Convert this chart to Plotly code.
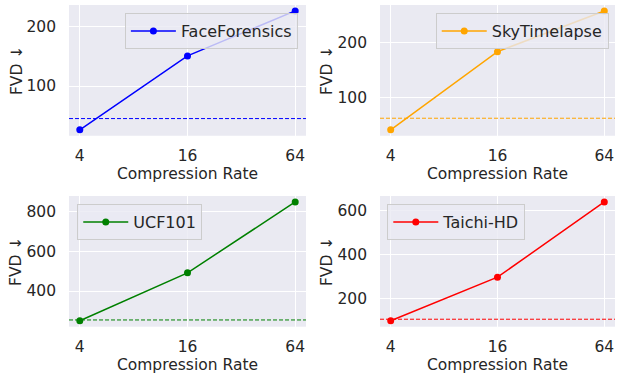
import math
import plotly.graph_objects as go

rates = [4, 16, 64]
rate_labels = ["4", "16", "64"]
datasets = ["FaceForensics", "SkyTimelapse", "UCF101", "Taichi-HD"]
colors = ["blue", "orange", "green", "red"]
face_fvd = [26, 151, 227]
sky_fvd = [41, 183, 257]
ucf_fvd = [251, 491, 846]
taichi_fvd = [98, 296, 638]
baseline_fvd = [45, 62, 255, 105]
ytick_sets = [[100, 200], [100, 200], [400, 600, 800], [200, 400, 600]]
series = [face_fvd, sky_fvd, ucf_fvd, taichi_fvd]

FONT = "DejaVu Sans"
TXT = "#262626"
BG = "#EAEAF2"

xdoms = [[0.1117, 0.4951], [0.6149, 0.9951], [0.1117, 0.4951], [0.6149, 0.9951]]
ydoms = [[0.638, 0.9867], [0.638, 0.9867], [0.1288, 0.4773], [0.1288, 0.4773]]
legpos = [
    dict(x=0.482, xanchor="right", y=0.9653, yanchor="top"),
    dict(x=0.985, xanchor="right", y=0.9653, yanchor="top"),
    dict(x=0.125, xanchor="left", y=0.456, yanchor="top"),
    dict(x=0.6267, xanchor="left", y=0.456, yanchor="top"),
]

fig = go.Figure()
lx0, lx1 = math.log10(rates[0]), math.log10(rates[-1])
lpad = 0.05 * (lx1 - lx0)

layout = dict(
    width=618, height=375,
    margin=dict(l=0, r=0, t=0, b=0, autoexpand=False),
    paper_bgcolor="white", plot_bgcolor=BG,
    font=dict(family=FONT, size=15.5, color=TXT),
    showlegend=True,
)

for i, (name, col, vals, base, yt) in enumerate(zip(datasets, colors, series, baseline_fvd, ytick_sets)):
    n = "" if i == 0 else str(i + 1)
    leg = "legend" if i == 0 else f"legend{i+1}"
    fig.add_trace(go.Scatter(
        x=rates, y=vals, mode="lines+markers", name=name,
        line=dict(color=col, width=1.5), marker=dict(color=col, size=7),
        xaxis="x" + n, yaxis="y" + n, legend=leg, showlegend=True,
    ))
    allv = vals + [base]
    lo, hi = min(allv), max(allv)
    pad = 0.05 * (hi - lo)
    layout["xaxis" + n] = dict(
        domain=xdoms[i], anchor="y" + n, type="log", automargin=False,
        range=[lx0 - lpad, lx1 + lpad],
        tickvals=rates, ticktext=rate_labels, ticks="",
        showgrid=True, gridcolor="white", gridwidth=1, zeroline=False, showline=False,
        title=dict(text="Compression Rate", standoff=2, font=dict(size=15.5)),
        ticklabelstandoff=9,
    )
    layout["yaxis" + n] = dict(
        domain=ydoms[i], anchor="x" + n, automargin=False,
        range=[lo - pad, hi + pad],
        tickvals=yt, ticks="",
        showgrid=True, gridcolor="white", gridwidth=1, zeroline=False, showline=False,
        title=dict(text="FVD ↓", standoff=0, font=dict(size=15.5)),
        ticklabelstandoff=12,
    )
    layout[leg] = dict(
        **legpos[i], bgcolor="rgba(234,234,242,0.8)", bordercolor="#cccccc", borderwidth=1,
        font=dict(size=16, color=TXT, family=FONT), itemwidth=45,
    )
    fig.add_shape(type="line", xref=f"x{n} domain", x0=0, x1=1, yref="y" + n, y0=base, y1=base,
                  line=dict(color=col, width=1, dash="4px,2px"))

fig.update_layout(**layout)
fig.write_html("out.html", config={"displayModeBar": False},
               post_script="document.body.style.margin='0';document.body.style.overflow='hidden';")
